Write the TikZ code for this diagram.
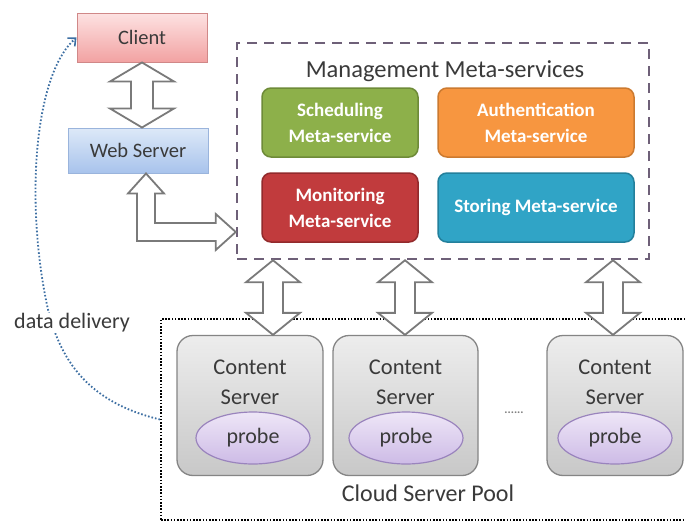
\documentclass[tikz,border=0pt]{standalone}
\usepackage{fontspec}
\setmainfont{Carlito}
\usetikzlibrary{arrows.meta,calc,shapes.geometric}
\definecolor{txt}{HTML}{3A3A3A}
\definecolor{clientTop}{HTML}{FDE2E2}
\definecolor{clientBot}{HTML}{F2A2A2}
\definecolor{clientBd}{HTML}{D08888}
\definecolor{webTop}{HTML}{DDE9F8}
\definecolor{webBot}{HTML}{A8C3EC}
\definecolor{webBd}{HTML}{9AB4DC}
\definecolor{sgreen}{HTML}{8DB04A}
\definecolor{sgreenBd}{HTML}{6E8B38}
\definecolor{sorange}{HTML}{F79640}
\definecolor{sorangeBd}{HTML}{CC7A30}
\definecolor{sred}{HTML}{C13B3D}
\definecolor{sredBd}{HTML}{922A2C}
\definecolor{sblue}{HTML}{30A4C6}
\definecolor{sblueBd}{HTML}{23809C}
\definecolor{csTop}{HTML}{EDEDED}
\definecolor{csBot}{HTML}{C8C8C8}
\definecolor{csBd}{HTML}{858585}
\definecolor{prTop}{HTML}{EEE6F7}
\definecolor{prBot}{HTML}{CDBBE6}
\definecolor{prBd}{HTML}{9A84BD}
\definecolor{dashBd}{HTML}{6E6078}
\definecolor{arrBd}{HTML}{7A7A7A}
\definecolor{deliv}{HTML}{3D6FA3}
\newcommand\mydarrow[5]{\draw[hollow] (#1) -- ++(#3,#5) -- ++({#4-#3},0) -- ($(#2)+(#4,-#5)$) -- ++({#3-#4},0) -- (#2) -- ++({-#3},-#5) -- ++({#3-#4},0) -- ($(#1)+(-#4,#5)$) -- ++({#4-#3},0) -- cycle;}
\begin{document}
\begin{tikzpicture}[x=1pt,y=-1pt,
  hollow/.style={draw=arrBd,fill=white,line width=1.8pt,line join=miter},
  topbox/.style={draw,line width=1pt,inner sep=0pt,text=txt,font=\fontsize{20.5}{22}\selectfont},
  svc/.style={draw,line width=1.5pt,rounded corners=9pt,inner sep=0pt,align=center,
     text=white,font=\fontsize{19}{26}\selectfont\bfseries,minimum height=69pt},
  dashbox/.style={draw=dashBd,line width=2.5pt,dash pattern=on 10pt off 7pt,inner sep=0pt},
  poolbox/.style={draw=black,line width=2pt,dash pattern=on 1.6pt off 1.6pt,inner sep=0pt},
  csbox/.style={draw=csBd,line width=1.3pt,rounded corners=16pt,top color=csTop,bottom color=csBot,
     inner sep=0pt,minimum height=140pt},
  cstext/.style={align=center,text=txt,font=\fontsize{22.5}{30}\selectfont},
  probe/.style={ellipse,draw=prBd,line width=1.2pt,top color=prTop,bottom color=prBot,
     minimum width=114pt,minimum height=52pt,inner sep=0pt,text=txt,font=\fontsize{22}{24}\selectfont},
  lbl/.style={text=txt,inner sep=1pt}
]
\clip (0,0) rectangle (686,522);
\fill[white] (0,0) rectangle (686,522);

% top-left boxes
\node[topbox,draw=clientBd,top color=clientTop,bottom color=clientBot,minimum width=130pt,minimum height=49pt] (client) at (142,37.5) {Client};
\node[topbox,draw=webBd,top color=webTop,bottom color=webBot,minimum width=140pt,minimum height=45pt] (web) at (138,150.5) {Web Server};

% management box
\node[dashbox,minimum width=412pt,minimum height=216pt] (mgmt) at (443,151) {};
\node[lbl,font=\fontsize{24.5}{26}\selectfont] (mtitle) at (445,71) {Management Meta-services};
\node[svc,draw=sgreenBd,fill=sgreen,minimum width=156pt] (sched) at (340,122.5) {Scheduling\\Meta-service};
\node[svc,draw=sorangeBd,fill=sorange,minimum width=196pt] (auth) at (536,122.5) {Authentication\\Meta-service};
\node[svc,draw=sredBd,fill=sred,minimum width=156pt] (moni) at (340,207.5) {Monitoring\\Meta-service};
\node[svc,draw=sblueBd,fill=sblue,minimum width=196pt] (stor) at (536,207.5) {Storing Meta-service};

% cloud server pool
\node[poolbox,anchor=north west,minimum width=560pt,minimum height=201pt] (pool) at (160,318) {};
\node[lbl,font=\fontsize{24}{26}\selectfont] (pooltxt) at (428,493) {Cloud Server Pool};

\node[csbox,minimum width=146pt] (cs1) at (250,405.5) {};
\node[csbox,minimum width=145pt] (cs2) at (405.5,405.5) {};
\node[csbox,minimum width=136pt] (cs3) at (615,405.5) {};
\node[cstext] (cs1t) at (250,382) {Content\\Server};
\node[cstext] (cs2t) at (405.5,382) {Content\\Server};
\node[cstext] (cs3t) at (615,382) {Content\\Server};
\node[probe] (p1) at (253,438) {probe};
\node[probe] (p2) at (406,438) {probe};
\node[probe] (p3) at (615,438) {probe};
\node[text=gray,font=\fontsize{12}{12}\selectfont\bfseries,inner sep=0pt] (dots) at (514,413) {......};

% hollow arrows
\mydarrow{client.south}{client.south |- web.north}{32}{11}{19}
\coordinate (ax1) at (273,0);
\coordinate (ax2) at (405,0);
\coordinate (ax3) at (613,0);
\mydarrow{ax1 |- mgmt.south}{ax1 |- cs1.north}{27}{10}{22}
\mydarrow{ax2 |- mgmt.south}{ax2 |- cs2.north}{27}{10}{22}
\mydarrow{ax3 |- mgmt.south}{ax3 |- cs3.north}{27}{10}{22}

\coordinate (T) at ([xshift=8pt]web.south);
\coordinate (R) at (mgmt.west |- 0,232);
\draw[hollow] (T) -- ++(18,20) -- ++(-9,0) -- ($(T |- R)+(9,-9)$) -- ($(R)+(-20,-9)$) -- ++(0,-9)
  -- (R) -- ($(R)+(-20,18)$) -- ++(0,-9) -- ($(T |- R)+(-9,9)$) -- ($(T)+(-9,20)$) -- ++(-9,0) -- cycle;

% data delivery
\draw[deliv,line width=1.8pt,dash pattern=on 1.6pt off 2pt,-{Straight Barb[length=6pt,width=11pt,line width=1.6pt]}]
  (pool.west) .. controls (100,405) and (60,372) .. (46,300) .. controls (26,200) and (34,75) .. (client.west);
\node[lbl,fill=white,font=\fontsize{22}{24}\selectfont] (dd) at (72,323) {data delivery};
\end{tikzpicture}
\end{document}
